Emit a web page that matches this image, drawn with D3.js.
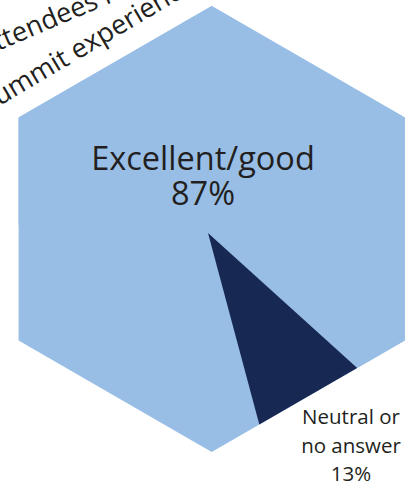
<!DOCTYPE html>
<html><head><meta charset="utf-8">
<script src="https://cdn.jsdelivr.net/npm/d3@7"></script>
<style>html,body{margin:0;padding:0;background:#fff;overflow:hidden}</style>
</head><body>
<svg id="c" width="411" height="484"></svg>
<script>
const categories = ["Excellent/good", "Neutral or no answer"];
const values = [87, 13];
const valueLabels = ["87%", "13%"];
const labelLines = [["Excellent/good"], ["Neutral or", "no answer"]];
const titleLines = ["How attendees rated their", "summit experience"];
const colors = ["#99bee6", "#172852"];

const W = 411, H = 484;
const deg = Math.PI / 180;
const font = "'Open Sans', sans-serif";
const ink = "#231f20";
const svg = d3.select("#c");

// hexagon
const cx = 211.7, cy = 229, R = 223;
const hexPts = d3.range(6).map(i => {
  const a = (-90 + 60 * i) * deg;
  return [cx + R * Math.cos(a), cy + R * Math.sin(a)];
});
const ptsStr = hexPts.map(p => p.join(",")).join(" ");
svg.append("defs").append("clipPath").attr("id", "hex")
  .append("polygon").attr("points", ptsStr);
svg.append("polygon").attr("points", ptsStr).attr("fill", colors[0]);

// pie slices clipped to the hexagon
const pie = d3.pie().sort(null).value(d => d)
  .startAngle(-87.7 * deg).endAngle(165 * deg);
const arcs = pie(values);
const arc = d3.arc().innerRadius(0).outerRadius(330);
svg.append("g").attr("clip-path", "url(#hex)")
  .append("g").attr("transform", "translate(208,233)")
  .selectAll("path").data(arcs).join("path")
  .attr("d", arc).attr("fill", (d, i) => colors[i]);

// labels
function block(lines, x, y0, lh, size) {
  const t = svg.append("text").attr("font-family", font).attr("font-size", size)
    .attr("fill", ink).attr("text-anchor", "middle");
  lines.forEach((s, i) => t.append("tspan").attr("x", x).attr("y", y0 + i * lh).text(s));
}
block([...labelLines[0], valueLabels[0]], 203, 170, 35, 32.5);
block([...labelLines[1], valueLabels[1]], 351, 424, 28.5, 20.5);

// rotated title lines (cut by the frame)
function placeLine(str, k, px, py, angle, size) {
  const tmp = svg.append("text").attr("font-family", font).attr("font-size", size)
    .text(str.slice(0, k));
  const w = tmp.node().getComputedTextLength();
  tmp.remove();
  const a = angle * deg;
  const x0 = px - w * Math.cos(a), y0 = py - w * Math.sin(a);
  svg.append("text").attr("x", x0).attr("y", y0)
    .attr("transform", `rotate(${angle},${x0},${y0})`)
    .attr("font-family", font).attr("font-size", size).attr("fill", ink)
    .text(str);
}
placeLine(titleLines[0], 5, -2, 51, -23, 27);
placeLine(titleLines[1], 1, -0.5, 106, -30.6, 27);
</script>
</body></html>
